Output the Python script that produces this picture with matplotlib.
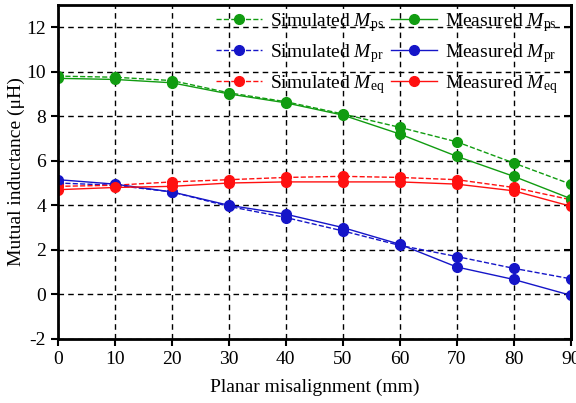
import numpy as np
import matplotlib
matplotlib.use('Agg')
from matplotlib import pyplot as plt

plt.rcParams['font.family'] = ['Liberation Serif', 'DejaVu Serif']
plt.rcParams['mathtext.fontset'] = 'custom'
plt.rcParams['mathtext.rm'] = 'Liberation Serif'
plt.rcParams['mathtext.it'] = 'Liberation Serif:italic'
plt.rcParams['axes.unicode_minus'] = False

# 数据
x = [0, 10, 20, 30, 40, 50, 60, 70, 80, 90]
sim_ps = [9.8, 9.75, 9.6, 9.05, 8.65, 8.1, 7.5, 6.85, 5.9, 4.95]
meas_ps = [9.7, 9.65, 9.5, 9.0, 8.6, 8.05, 7.2, 6.2, 5.3, 4.3]
sim_pr = [5.0, 4.9, 4.6, 3.95, 3.45, 2.85, 2.2, 1.7, 1.17, 0.7]
meas_pr = [5.15, 4.95, 4.6, 4.0, 3.6, 3.0, 2.25, 1.23, 0.67, -0.04]
sim_eq = [4.85, 4.9, 5.05, 5.15, 5.25, 5.3, 5.25, 5.15, 4.8, 4.25]
meas_eq = [4.7, 4.8, 4.85, 5.0, 5.05, 5.05, 5.05, 4.95, 4.65, 3.96]

green = '#119c11'
blue = '#1515c8'
red = '#ff1010'

fig = plt.figure(figsize=(5.76, 4.03), dpi=100)
ax = fig.add_axes([0.1007, 0.159, 0.890, 0.829])

ms = 7
lw = 1.0
ax.plot(x, sim_ps, '--o', color=green, ms=ms, lw=lw, label=r'Simulated $\mathit{M}_{\mathrm{ps}}$')
ax.plot(x, sim_pr, '--o', color=blue, ms=ms, lw=lw, label=r'Simulated $\mathit{M}_{\mathrm{pr}}$')
ax.plot(x, sim_eq, '--o', color=red, ms=ms, lw=lw, label=r'Simulated $\mathit{M}_{\mathrm{eq}}$')
ax.plot(x, meas_ps, '-o', color=green, ms=ms, lw=lw, label=r'Measured $\mathit{M}_{\mathrm{ps}}$')
ax.plot(x, meas_pr, '-o', color=blue, ms=ms, lw=lw, label=r'Measured $\mathit{M}_{\mathrm{pr}}$')
ax.plot(x, meas_eq, '-o', color=red, ms=ms, lw=lw, label=r'Measured $\mathit{M}_{\mathrm{eq}}$')

ax.set_xlim(0, 90)
ax.set_ylim(-2, 13)
ax.set_xticks(np.arange(0, 91, 10))
ax.set_yticks(np.arange(-2, 13, 2))
ax.grid(True, color='black', linestyle=(0, (4, 3)), linewidth=1)
ax.set_axisbelow(True)
for s in ax.spines.values():
    s.set_linewidth(2)
ax.tick_params(axis='both', labelsize=14, width=1.5, length=5, direction='out')

# 右侧刻度朝内
sec = ax.secondary_yaxis('right')
sec.set_yticks(np.arange(-2, 13, 2))
sec.tick_params(direction='in', width=1.5, length=5, labelright=False)
sec.spines['right'].set_linewidth(2)

ax.set_xlabel('Planar misalignment (mm)', fontsize=14, labelpad=8)
ax.set_ylabel('Mutual inductance (μH)', fontsize=14, labelpad=1)

ax.legend(ncol=2, loc='upper right', frameon=False, fontsize=14,
          handlelength=2.4, columnspacing=0.3, handletextpad=0.4,
          labelspacing=0.42, borderaxespad=0.0, bbox_to_anchor=(0.99, 1.005))

fig.savefig('out.png', dpi=100)
